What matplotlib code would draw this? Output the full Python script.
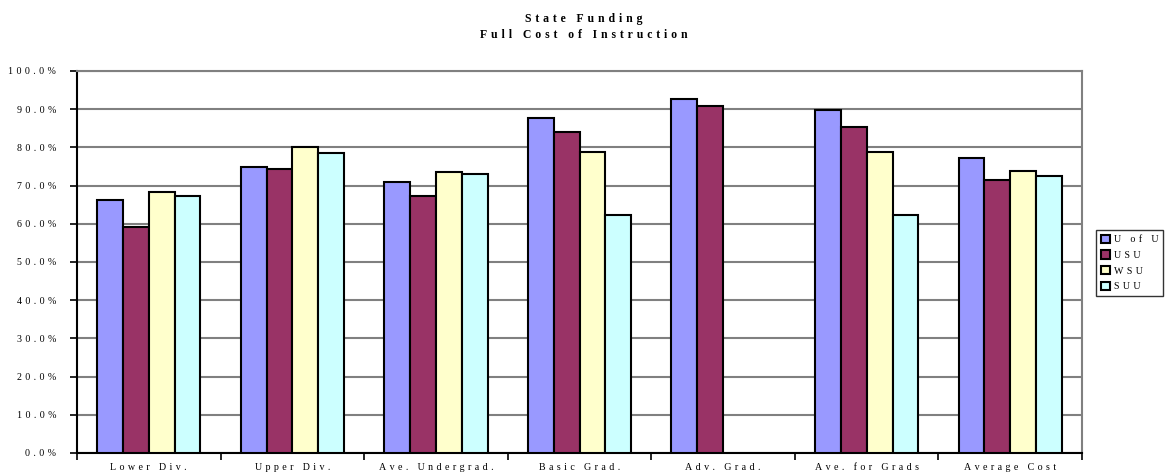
import matplotlib
matplotlib.use("Agg")
import matplotlib.pyplot as plt
import numpy as np
from matplotlib.ticker import FixedLocator, FuncFormatter

categories = ["Lower Div.", "Upper Div.", "Ave. Undergrad.", "Basic Grad.",
              "Adv. Grad.", "Ave. for Grads", "Average Cost"]
series_names = ["U of U", "USU", "WSU", "SUU"]
u_of_u = [66.2, 74.9, 71.0, 87.7, 92.7, 89.9, 77.1]
usu = [59.2, 74.3, 67.2, 83.9, 90.8, 85.2, 71.5]
wsu = [68.3, 80.1, 73.6, 78.7, np.nan, 78.7, 73.9]
suu = [67.3, 78.5, 72.9, 62.4, np.nan, 62.4, 72.4]
colors = ["#9999FF", "#993366", "#FFFFCC", "#CCFFFF"]

plt.rcParams["font.family"] = ["Liberation Serif", "DejaVu Serif"]

SP = "\u2004"  # wide letter tracking, as in the original spreadsheet export


def tracked(s):
    return SP.join(s)


fig = plt.figure(figsize=(11.67, 4.73), dpi=100)
ax = fig.add_axes([0.066, 0.0423, 0.8612, 0.8077])

x = np.arange(len(categories)) + 0.5
bw = 0.18
all_series = [u_of_u, usu, wsu, suu]
for i, (vals, name, c) in enumerate(zip(all_series, series_names, colors)):
    ax.bar(x + (i - 1.5) * bw, vals, width=bw, color=c, edgecolor="black",
           linewidth=1.5, label=tracked(name), zorder=3)

ax.set_xlim(0, len(categories))
ax.set_ylim(0, 100)
ax.yaxis.set_major_locator(FixedLocator(np.arange(0, 101, 10)))
ax.yaxis.set_major_formatter(FuncFormatter(lambda v, p: tracked(f"{v:.1f}%")))
ax.grid(axis="y", color="#808080", linewidth=1.5, zorder=0)
ax.set_axisbelow(True)

ax.xaxis.set_major_locator(FixedLocator(np.arange(0, len(categories) + 1)))
ax.xaxis.set_major_formatter(plt.NullFormatter())
ax.xaxis.set_minor_locator(FixedLocator(x))
ax.set_xticklabels([tracked(c) for c in categories], minor=True)
ax.tick_params(axis="x", which="minor", length=0, labelsize=7.2, pad=7)
ax.tick_params(axis="x", which="major", length=5, width=1.2, direction="out")
ax.tick_params(axis="y", length=5, width=1.2, direction="out", labelsize=7.2, pad=10)

for side in ["left", "bottom"]:
    ax.spines[side].set_color("black")
    ax.spines[side].set_linewidth(1.5)
for side in ["top", "right"]:
    ax.spines[side].set_color("#808080")
    ax.spines[side].set_linewidth(1.5)

fig.text(0.5, 0.960, tracked("State Funding"), ha="center", va="center",
         fontsize=8.5, fontweight="bold")
fig.text(0.5, 0.926, tracked("Full Cost of Instruction"), ha="center", va="center",
         fontsize=8.5, fontweight="bold")

leg = fig.legend(loc="upper left", bbox_to_anchor=(0.939, 0.514),
                 fontsize=7.2, frameon=True, fancybox=False, edgecolor="black",
                 handlelength=0.9, handleheight=0.9, handletextpad=0.4,
                 borderpad=0.5, labelspacing=0.6, borderaxespad=0)
leg.get_frame().set_linewidth(1.0)

fig.savefig("out.png", dpi=100)
